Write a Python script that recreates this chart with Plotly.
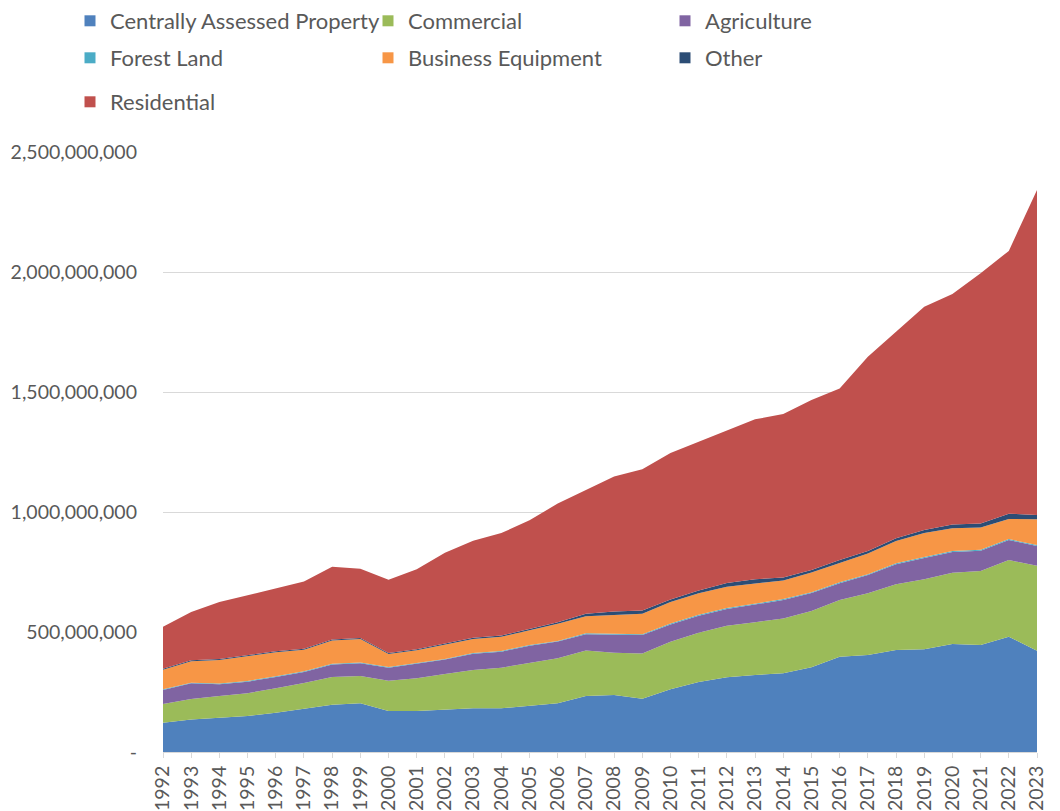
import plotly.graph_objects as go

years = list(range(1992, 2024))

# values in millions of dollars
central = [122, 135, 143, 150, 164, 179, 197, 203, 171, 171, 175, 182, 182, 192, 203, 233,
           238, 222, 261, 292, 311, 321, 328, 353, 397, 404, 425, 428, 450, 446, 480, 422]
commercial = [78, 86, 90, 95, 102, 108, 115, 114, 126, 136, 150, 160, 169, 180, 188, 190,
              176, 188, 198, 205, 215, 220, 228, 235, 236, 257, 274, 292, 297, 308, 320, 354]
agriculture = [58, 65, 49, 48, 47, 46, 53, 53, 54, 60, 60, 67, 67, 71, 69, 68,
               75, 77, 72, 71, 70, 72, 77, 74, 70, 76, 83, 88, 86, 85, 83, 82]
forest = [3, 3, 3, 3, 3, 3, 3, 3, 3, 3, 3, 3, 3, 3, 3, 4,
          4, 4, 4, 4, 4, 4, 4, 4, 4, 4, 4, 4, 4, 4, 4, 4]
business = [82, 89, 98, 105, 100, 90, 97, 98, 54, 54, 60, 59, 59, 62, 71, 71,
            78, 85, 90, 89, 89, 86, 78, 82, 82, 86, 93, 100, 95, 92, 84, 108]
other = [4, 4, 4, 4, 4, 4, 4, 4, 4, 4, 4, 5, 5, 6, 7, 10,
         14, 14, 10, 12, 15, 17, 12, 10, 11, 11, 12, 13, 16, 17, 22, 18]
residential = [175, 201, 238, 249, 263, 280, 303, 289, 306, 333, 378, 404, 427, 452, 494, 514,
               563, 588, 611, 620, 635, 666, 681, 709, 715, 809, 860, 930, 960, 1043, 1095, 1354]

series = [
    ("Centrally Assessed Property", central, "#4F81BD"),
    ("Commercial", commercial, "#9BBB59"),
    ("Agriculture", agriculture, "#8064A2"),
    ("Forest Land", forest, "#4BACC6"),
    ("Business Equipment", business, "#F79646"),
    ("Other", other, "#2C4D75"),
    ("Residential", residential, "#C0504D"),
]

fig = go.Figure()
for name, vals, color in series:
    fig.add_trace(go.Scatter(
        x=years, y=[v * 1e6 for v in vals], name=name,
        mode="lines", stackgroup="one",
        line=dict(width=0, color=color), fillcolor=color,
        showlegend=False, legendgroup=name,
    ))

# legend grid: 3 columns, 3 rows, one small legend per entry
col_x = [70, 368, 665]
row_top = [0, 37, 81]
font_family = "Lato, Open Sans, sans-serif"
legends = {}
for i, (name, vals, color) in enumerate(series):
    key = "legend" if i == 0 else "legend%d" % (i + 1)
    legends[key] = dict(
        orientation="h", xref="container", yref="container",
        xanchor="left", yanchor="top",
        x=col_x[i % 3] / 1060, y=1 - row_top[i // 3] / 811,
        font=dict(size=22, color="#595959", family=font_family),
        bgcolor="rgba(0,0,0,0)",
    )
    fig.add_trace(go.Scatter(
        x=[None], y=[None], name=name, mode="markers",
        marker=dict(symbol="square", size=11, color=color),
        legend=key, legendgroup=name,
    ))

y_ticks = [0, 5e8, 1e9, 1.5e9, 2e9, 2.5e9]
y_labels = ["-", "500,000,000", "1,000,000,000", "1,500,000,000", "2,000,000,000", "2,500,000,000"]

fig.update_layout(
    width=1060, height=811,
    margin=dict(l=163, r=23, t=152, b=59),
    paper_bgcolor="white", plot_bgcolor="white",
    font=dict(family=font_family, color="#595959"),
    xaxis=dict(
        range=[1992, 2023], tickvals=years, ticktext=[str(y) for y in years],
        tickangle=-90, tickfont=dict(size=19.5, color="#595959"),
        showgrid=False, showline=True, linecolor="#d9d9d9", linewidth=1,
        ticks="outside", ticklen=5, tickcolor="#d9d9d9", zeroline=False,
        automargin=False,
    ),
    yaxis=dict(
        range=[0, 2.5e9], tickvals=y_ticks, ticktext=y_labels,
        tickfont=dict(size=19.5, color="#595959"),
        showgrid=True, gridcolor="#d9d9d9", gridwidth=1,
        zeroline=False, showline=False, ticklabelstandoff=25,
        automargin=False,
    ),
    **legends,
)

fig.write_html("out.html", config={"displayModeBar": False},
               post_script="document.body.style.margin='0px';")
